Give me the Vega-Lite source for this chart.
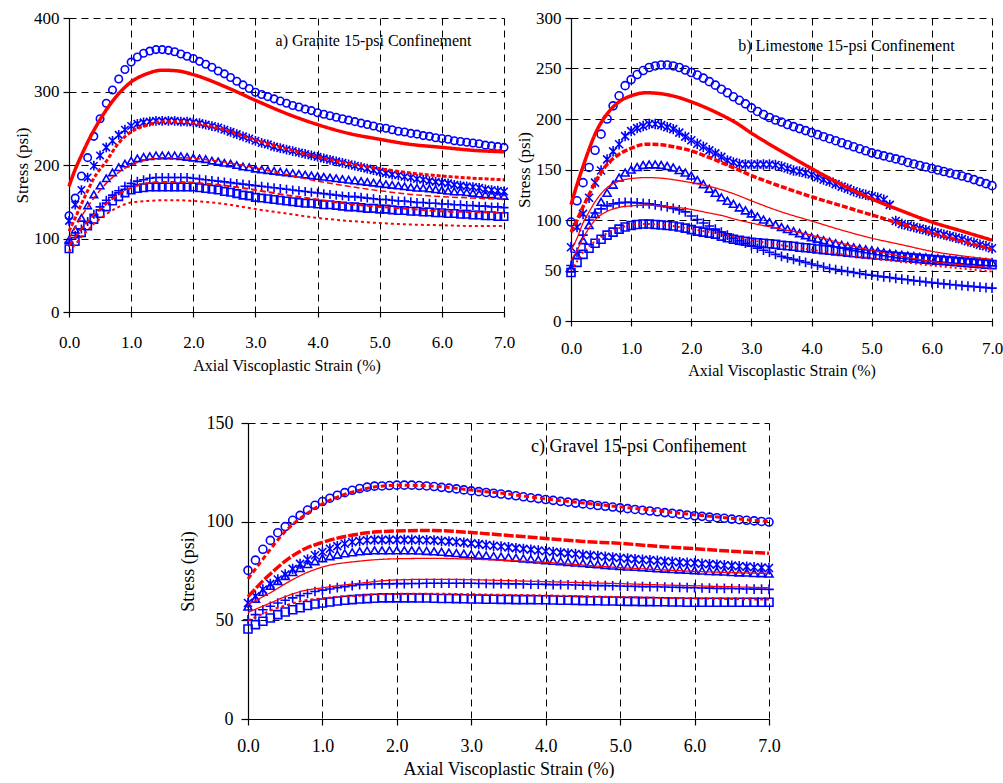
{
"$schema": "https://vega.github.io/schema/vega-lite/v6.json",
"background": "white",
"padding": {"left": 13, "top": 9, "right": 0, "bottom": 0},
"spacing": 36,
"resolve": {"scale": {"shape": "independent", "strokeDash": "independent", "strokeWidth": "independent"}},
"datasets": {
"aPts": [
{"strain":0.0,"circle":131,"star":124,"triangle":98,"plus":95,"square":86},
{"strain":0.1,"circle":155,"star":146,"triangle":112,"plus":104,"square":96},
{"strain":0.2,"circle":185,"star":166,"triangle":128,"plus":113,"square":108},
{"strain":0.3,"circle":210,"star":183,"triangle":145,"plus":123,"square":117},
{"strain":0.4,"circle":239,"star":199,"triangle":160,"plus":133,"square":126},
{"strain":0.5,"circle":263,"star":213,"triangle":172,"plus":143,"square":134},
{"strain":0.6,"circle":284,"star":224,"triangle":182,"plus":152,"square":143},
{"strain":0.7,"circle":302,"star":233,"triangle":190,"plus":159,"square":151},
{"strain":0.8,"circle":317,"star":241,"triangle":197,"plus":165,"square":157},
{"strain":0.9,"circle":330,"star":248,"triangle":202,"plus":171,"square":162},
{"strain":1.0,"circle":340,"star":253,"triangle":206,"plus":175,"square":166},
{"strain":1.1,"circle":347,"star":256,"triangle":209,"plus":178,"square":168},
{"strain":1.2,"circle":352,"star":258,"triangle":211,"plus":180,"square":169},
{"strain":1.3,"circle":355,"star":259,"triangle":212,"plus":182,"square":170},
{"strain":1.4,"circle":357,"star":260,"triangle":213,"plus":183,"square":170},
{"strain":1.5,"circle":357,"star":260,"triangle":213,"plus":183,"square":170},
{"strain":1.6,"circle":356,"star":260,"triangle":213,"plus":183,"square":170},
{"strain":1.7,"circle":354,"star":260,"triangle":213,"plus":183,"square":170},
{"strain":1.8,"circle":351,"star":259,"triangle":212,"plus":183,"square":170},
{"strain":1.9,"circle":348,"star":259,"triangle":211,"plus":183,"square":170},
{"strain":2.0,"circle":345,"star":258,"triangle":210,"plus":182,"square":170},
{"strain":2.1,"circle":341,"star":257,"triangle":209,"plus":181,"square":169},
{"strain":2.2,"circle":337,"star":255,"triangle":208,"plus":180,"square":168},
{"strain":2.3,"circle":333,"star":253,"triangle":206,"plus":179,"square":167},
{"strain":2.4,"circle":328,"star":251,"triangle":205,"plus":178,"square":166},
{"strain":2.5,"circle":324,"star":248,"triangle":203,"plus":177,"square":164},
{"strain":2.6,"circle":319,"star":245,"triangle":202,"plus":176,"square":163},
{"strain":2.7,"circle":314,"star":242,"triangle":200,"plus":175,"square":161},
{"strain":2.8,"circle":309,"star":239,"triangle":198,"plus":174,"square":159},
{"strain":2.9,"circle":304,"star":236,"triangle":197,"plus":173,"square":158},
{"strain":3.0,"circle":299,"star":233,"triangle":195,"plus":172,"square":156},
{"strain":3.1,"circle":296,"star":230,"triangle":194,"plus":171,"square":155},
{"strain":3.2,"circle":293,"star":228,"triangle":193,"plus":170,"square":154},
{"strain":3.3,"circle":290,"star":225,"triangle":192,"plus":169,"square":153},
{"strain":3.4,"circle":287,"star":223,"triangle":191,"plus":168,"square":152},
{"strain":3.5,"circle":284,"star":221,"triangle":190,"plus":167,"square":151},
{"strain":3.6,"circle":281,"star":219,"triangle":189,"plus":166,"square":150},
{"strain":3.7,"circle":279,"star":217,"triangle":188,"plus":165,"square":149},
{"strain":3.8,"circle":276,"star":215,"triangle":187,"plus":164,"square":148},
{"strain":3.9,"circle":274,"star":213,"triangle":186,"plus":163,"square":148},
{"strain":4.0,"circle":271,"star":211,"triangle":185,"plus":162,"square":147},
{"strain":4.1,"circle":269,"star":209,"triangle":184,"plus":161,"square":146},
{"strain":4.2,"circle":267,"star":207,"triangle":183,"plus":160,"square":146},
{"strain":4.3,"circle":265,"star":205,"triangle":182,"plus":159,"square":145},
{"strain":4.4,"circle":263,"star":203,"triangle":181,"plus":158,"square":144},
{"strain":4.5,"circle":261,"star":201,"triangle":180,"plus":157,"square":143},
{"strain":4.6,"circle":259,"star":199,"triangle":179,"plus":157,"square":143},
{"strain":4.7,"circle":257,"star":197,"triangle":178,"plus":156,"square":142},
{"strain":4.8,"circle":255,"star":195,"triangle":177,"plus":155,"square":141},
{"strain":4.9,"circle":253,"star":193,"triangle":176,"plus":154,"square":141},
{"strain":5.0,"circle":251,"star":191,"triangle":175,"plus":153,"square":140},
{"strain":5.1,"circle":250,"star":189,"triangle":174,"plus":153,"square":140},
{"strain":5.2,"circle":248,"star":187,"triangle":173,"plus":152,"square":139},
{"strain":5.3,"circle":246,"star":186,"triangle":172,"plus":151,"square":138},
{"strain":5.4,"circle":245,"star":184,"triangle":171,"plus":151,"square":138},
{"strain":5.5,"circle":243,"star":183,"triangle":170,"plus":150,"square":137},
{"strain":5.6,"circle":242,"star":181,"triangle":169,"plus":149,"square":137},
{"strain":5.7,"circle":240,"star":180,"triangle":169,"plus":149,"square":136},
{"strain":5.8,"circle":239,"star":178,"triangle":168,"plus":148,"square":136},
{"strain":5.9,"circle":237,"star":177,"triangle":167,"plus":148,"square":135},
{"strain":6.0,"circle":236,"star":176,"triangle":166,"plus":147,"square":135},
{"strain":6.1,"circle":235,"star":175,"triangle":165,"plus":147,"square":134},
{"strain":6.2,"circle":233,"star":173,"triangle":164,"plus":146,"square":134},
{"strain":6.3,"circle":232,"star":172,"triangle":164,"plus":146,"square":133},
{"strain":6.4,"circle":231,"star":171,"triangle":163,"plus":145,"square":133},
{"strain":6.5,"circle":230,"star":170,"triangle":162,"plus":145,"square":132},
{"strain":6.6,"circle":229,"star":169,"triangle":161,"plus":144,"square":132},
{"strain":6.7,"circle":227,"star":167,"triangle":160,"plus":144,"square":131},
{"strain":6.8,"circle":226,"star":166,"triangle":160,"plus":143,"square":131},
{"strain":6.9,"circle":225,"star":165,"triangle":159,"plus":143,"square":130},
{"strain":7.0,"circle":224,"star":164,"triangle":158,"plus":142,"square":130}
],
"aLines": [
{"strain":0.0,"m1":171,"m2":110,"m3":100,"m4":90,"m5":82},
{"strain":0.1,"m1":194,"m2":128,"m3":115,"m4":102,"m5":92},
{"strain":0.2,"m1":213,"m2":147,"m3":130,"m4":113,"m5":102},
{"strain":0.3,"m1":231,"m2":165,"m3":143,"m4":123,"m5":111},
{"strain":0.4,"m1":247,"m2":182,"m3":155,"m4":132,"m5":120},
{"strain":0.6,"m1":275,"m2":205,"m3":175,"m4":147,"m5":133},
{"strain":0.8,"m1":297,"m2":230,"m3":190,"m4":160,"m5":143},
{"strain":1.0,"m1":313,"m2":245,"m3":200,"m4":169,"m5":149},
{"strain":1.25,"m1":324,"m2":254,"m3":207,"m4":175,"m5":151},
{"strain":1.5,"m1":329,"m2":259,"m3":210,"m4":177,"m5":152},
{"strain":1.75,"m1":328,"m2":259,"m3":210,"m4":177,"m5":152},
{"strain":2.0,"m1":323,"m2":257,"m3":209,"m4":176,"m5":151},
{"strain":2.5,"m1":307,"m2":248,"m3":204,"m4":172,"m5":147},
{"strain":3.0,"m1":288,"m2":234,"m3":196,"m4":166,"m5":140},
{"strain":3.5,"m1":270,"m2":222,"m3":187,"m4":159,"m5":134},
{"strain":4.0,"m1":255,"m2":211,"m3":178,"m4":153,"m5":128},
{"strain":4.5,"m1":243,"m2":202,"m3":171,"m4":147,"m5":124},
{"strain":5.0,"m1":235,"m2":195,"m3":165,"m4":143,"m5":121},
{"strain":5.5,"m1":228,"m2":189,"m3":160,"m4":140,"m5":119},
{"strain":6.0,"m1":224,"m2":185,"m3":157,"m4":137,"m5":118},
{"strain":6.5,"m1":220,"m2":182,"m3":155,"m4":136,"m5":117},
{"strain":7.0,"m1":218,"m2":180,"m3":153,"m4":135,"m5":117}
],
"bPts": [
{"strain":0.0,"circle":98,"star":73,"triangle":52,"plus":55,"square":48},
{"strain":0.1,"circle":119,"star":93,"triangle":65,"plus":68,"square":58},
{"strain":0.2,"circle":137,"star":106,"triangle":80,"plus":85,"square":66},
{"strain":0.3,"circle":152,"star":122,"triangle":95,"plus":100,"square":72},
{"strain":0.4,"circle":169,"star":137,"triangle":106,"plus":107,"square":77},
{"strain":0.5,"circle":185,"star":149,"triangle":118,"plus":111,"square":81},
{"strain":0.6,"circle":200,"star":160,"triangle":127,"plus":114,"square":85},
{"strain":0.7,"circle":213,"star":168,"triangle":135,"plus":116,"square":88},
{"strain":0.8,"circle":223,"star":175,"triangle":142,"plus":117,"square":91},
{"strain":0.9,"circle":233,"star":183,"triangle":147,"plus":117.5,"square":93},
{"strain":1.0,"circle":239,"star":188,"triangle":150,"plus":117.5,"square":94.5},
{"strain":1.1,"circle":244,"star":191,"triangle":152.5,"plus":117,"square":95.5},
{"strain":1.2,"circle":248,"star":193,"triangle":154.5,"plus":116.5,"square":96},
{"strain":1.3,"circle":251,"star":195,"triangle":155,"plus":116,"square":96},
{"strain":1.4,"circle":252.5,"star":195,"triangle":155,"plus":115,"square":95.5},
{"strain":1.5,"circle":253.5,"star":194,"triangle":154.5,"plus":114,"square":95},
{"strain":1.6,"circle":253.5,"star":192,"triangle":153.5,"plus":113,"square":94.5},
{"strain":1.7,"circle":252.5,"star":190,"triangle":152,"plus":111.5,"square":94},
{"strain":1.8,"circle":251,"star":186.5,"triangle":149.5,"plus":110,"square":93},
{"strain":1.9,"circle":248.5,"star":182.5,"triangle":147,"plus":108,"square":92},
{"strain":2.0,"circle":246,"star":179,"triangle":144,"plus":104,"square":90.5},
{"strain":2.1,"circle":243.5,"star":175.5,"triangle":139.5,"plus":100.5,"square":89},
{"strain":2.2,"circle":240.5,"star":172.5,"triangle":135.5,"plus":97,"square":88},
{"strain":2.3,"circle":237,"star":169,"triangle":131,"plus":94,"square":87},
{"strain":2.4,"circle":233.5,"star":166,"triangle":127,"plus":91,"square":86},
{"strain":2.5,"circle":229.5,"star":162.5,"triangle":122.5,"plus":88,"square":84},
{"strain":2.6,"circle":226,"star":159,"triangle":119,"plus":85,"square":82.5},
{"strain":2.7,"circle":222,"star":157,"triangle":116,"plus":82,"square":81},
{"strain":2.8,"circle":218.5,"star":155.5,"triangle":112.5,"plus":79.5,"square":80},
{"strain":2.9,"circle":215,"star":155,"triangle":109.5,"plus":77,"square":79},
{"strain":3.0,"circle":211,"star":155,"triangle":106.5,"plus":74.5,"square":78},
{"strain":3.1,"circle":207.5,"star":155,"triangle":103.5,"plus":72,"square":77.5},
{"strain":3.2,"circle":204.5,"star":155,"triangle":100.5,"plus":70,"square":77},
{"strain":3.3,"circle":201.5,"star":155,"triangle":98,"plus":68,"square":76.5},
{"strain":3.4,"circle":199,"star":154.5,"triangle":95.5,"plus":66,"square":76},
{"strain":3.5,"circle":197,"star":153,"triangle":93,"plus":64,"square":75},
{"strain":3.6,"circle":194.5,"star":151,"triangle":91,"plus":62.5,"square":74.5},
{"strain":3.7,"circle":192.5,"star":149,"triangle":89,"plus":61,"square":74},
{"strain":3.8,"circle":190.5,"star":148,"triangle":87,"plus":59.5,"square":73},
{"strain":3.9,"circle":188.5,"star":146.5,"triangle":85,"plus":58,"square":72.5},
{"strain":4.0,"circle":186.5,"star":145,"triangle":83,"plus":56.5,"square":72},
{"strain":4.1,"circle":184.5,"star":142.5,"triangle":81.5,"plus":55,"square":71.3},
{"strain":4.2,"circle":182.5,"star":140,"triangle":80,"plus":53.5,"square":70.7},
{"strain":4.3,"circle":180.5,"star":138,"triangle":78.5,"plus":52,"square":70},
{"strain":4.4,"circle":178.5,"star":135.5,"triangle":77,"plus":51,"square":69.4},
{"strain":4.5,"circle":176.5,"star":133,"triangle":75.5,"plus":50,"square":68.8},
{"strain":4.6,"circle":174.5,"star":131,"triangle":74,"plus":49,"square":68.2},
{"strain":4.7,"circle":172.5,"star":128.5,"triangle":73,"plus":48,"square":67.6},
{"strain":4.8,"circle":170.5,"star":126.5,"triangle":72,"plus":47,"square":67},
{"strain":4.9,"circle":168.5,"star":125,"triangle":71,"plus":46,"square":66.4},
{"strain":5.0,"circle":166.5,"star":123.5,"triangle":70,"plus":45.3,"square":65.8},
{"strain":5.1,"circle":165,"star":122,"triangle":69,"plus":44.5,"square":65.3},
{"strain":5.2,"circle":163.5,"star":120,"triangle":68,"plus":43.7,"square":64.8},
{"strain":5.3,"circle":162,"star":115,"triangle":67,"plus":43,"square":64.3},
{"strain":5.4,"circle":160.5,"star":99,"triangle":66.2,"plus":42.2,"square":63.8},
{"strain":5.5,"circle":159,"star":96,"triangle":65.5,"plus":41.5,"square":63.3},
{"strain":5.6,"circle":157,"star":94.5,"triangle":64.8,"plus":40.8,"square":62.8},
{"strain":5.7,"circle":155.5,"star":93,"triangle":64.2,"plus":40,"square":62.3},
{"strain":5.8,"circle":154,"star":91.5,"triangle":63.6,"plus":39.3,"square":61.8},
{"strain":5.9,"circle":152.5,"star":90,"triangle":63,"plus":38.6,"square":61.3},
{"strain":6.0,"circle":151,"star":88.5,"triangle":62.5,"plus":38,"square":60.8},
{"strain":6.1,"circle":149.5,"star":87,"triangle":62,"plus":37.4,"square":60.3},
{"strain":6.2,"circle":148,"star":85.5,"triangle":61.5,"plus":36.8,"square":59.8},
{"strain":6.3,"circle":146.5,"star":84,"triangle":61,"plus":36.2,"square":59.3},
{"strain":6.4,"circle":145,"star":82.5,"triangle":60.5,"plus":35.6,"square":58.8},
{"strain":6.5,"circle":143.5,"star":81,"triangle":60,"plus":35,"square":58.3},
{"strain":6.6,"circle":142,"star":79,"triangle":59.6,"plus":34.5,"square":57.8},
{"strain":6.7,"circle":140,"star":77.5,"triangle":59.2,"plus":34,"square":57.3},
{"strain":6.8,"circle":138,"star":75.5,"triangle":58.8,"plus":33.5,"square":56.8},
{"strain":6.9,"circle":136,"star":74,"triangle":58.4,"plus":33,"square":56.3},
{"strain":7.0,"circle":134,"star":72,"triangle":58,"plus":32.5,"square":55.8}
],
"bLines": [
{"strain":0.0,"m1":115,"m2":88,"m3":70,"m4":60,"m5":50},
{"strain":0.1,"m1":135,"m2":100,"m3":82,"m4":70,"m5":59},
{"strain":0.2,"m1":153,"m2":113,"m3":97,"m4":82,"m5":68},
{"strain":0.3,"m1":170,"m2":125,"m3":108,"m4":92,"m5":74},
{"strain":0.4,"m1":185,"m2":137,"m3":118,"m4":100,"m5":79},
{"strain":0.6,"m1":205,"m2":155,"m3":132,"m4":108.5,"m5":87},
{"strain":0.8,"m1":217,"m2":165,"m3":138.5,"m4":112.5,"m5":92},
{"strain":1.0,"m1":223,"m2":171,"m3":141,"m4":114,"m5":95},
{"strain":1.25,"m1":226,"m2":175,"m3":142,"m4":114.7,"m5":96},
{"strain":1.5,"m1":225,"m2":174.5,"m3":141.4,"m4":114,"m5":95.5},
{"strain":1.75,"m1":222,"m2":172,"m3":139.5,"m4":112.5,"m5":93.5},
{"strain":2.0,"m1":217,"m2":168.5,"m3":137,"m4":110.5,"m5":91},
{"strain":2.25,"m1":211,"m2":163,"m3":134,"m4":107.5,"m5":88.5},
{"strain":2.5,"m1":204,"m2":157,"m3":130,"m4":104.5,"m5":86},
{"strain":2.75,"m1":196,"m2":150.5,"m3":125,"m4":100.5,"m5":83},
{"strain":3.0,"m1":186,"m2":144,"m3":119,"m4":97,"m5":80},
{"strain":3.5,"m1":168,"m2":133,"m3":108,"m4":91,"m5":75},
{"strain":4.0,"m1":151,"m2":123,"m3":99,"m4":85,"m5":70.5},
{"strain":4.5,"m1":135,"m2":114,"m3":90,"m4":77,"m5":66},
{"strain":5.0,"m1":121,"m2":105,"m3":82,"m4":70,"m5":62},
{"strain":5.5,"m1":109,"m2":96,"m3":75.5,"m4":64,"m5":58.5},
{"strain":6.0,"m1":98,"m2":87,"m3":69,"m4":59,"m5":55},
{"strain":6.5,"m1":89,"m2":79,"m3":64.5,"m4":55.5,"m5":52},
{"strain":7.0,"m1":80,"m2":71,"m3":61,"m4":52.5,"m5":49}
],
"cPts": [
{"strain":0.0,"circle":75.3,"star":58.8,"triangle":57,"plus":50.3,"square":45.6},
{"strain":0.1,"circle":80.5,"star":62.2,"triangle":61,"plus":52.9,"square":47.8},
{"strain":0.2,"circle":86,"star":65.6,"triangle":64.5,"plus":55.4,"square":49.5},
{"strain":0.3,"circle":90.5,"star":68.5,"triangle":67.5,"plus":57.1,"square":51.2},
{"strain":0.4,"circle":94.4,"star":70.7,"triangle":70,"plus":58.8,"square":52.9},
{"strain":0.5,"circle":97.5,"star":73.2,"triangle":72.5,"plus":60.2,"square":54.2},
{"strain":0.6,"circle":100.7,"star":76.1,"triangle":74.5,"plus":61.4,"square":55.4},
{"strain":0.7,"circle":103.2,"star":78.6,"triangle":76.5,"plus":62.5,"square":56.4},
{"strain":0.8,"circle":105.9,"star":80.8,"triangle":78.5,"plus":63.6,"square":57.5},
{"strain":0.9,"circle":108.3,"star":83,"triangle":80,"plus":64.6,"square":58.3},
{"strain":1.0,"circle":110.2,"star":84.6,"triangle":81.5,"plus":65.3,"square":58.8},
{"strain":1.1,"circle":111.9,"star":86.3,"triangle":82.5,"plus":65.9,"square":59.3},
{"strain":1.2,"circle":113.4,"star":87.6,"triangle":83.3,"plus":66.6,"square":59.8},
{"strain":1.3,"circle":114.7,"star":88.8,"triangle":84,"plus":67.1,"square":60.2},
{"strain":1.4,"circle":115.9,"star":89.7,"triangle":84.5,"plus":67.6,"square":60.5},
{"strain":1.5,"circle":116.8,"star":90.2,"triangle":85,"plus":68,"square":60.8},
{"strain":1.6,"circle":117.5,"star":90.6,"triangle":85.3,"plus":68.2,"square":61},
{"strain":1.7,"circle":118,"star":90.8,"triangle":85.5,"plus":68.4,"square":61.2},
{"strain":1.8,"circle":118.1,"star":90.8,"triangle":85.5,"plus":68.5,"square":61.4},
{"strain":1.9,"circle":118.3,"star":90.8,"triangle":85.5,"plus":68.5,"square":61.4},
{"strain":2.0,"circle":118.5,"star":90.8,"triangle":85.5,"plus":68.6,"square":61.4},
{"strain":2.1,"circle":118.5,"star":90.8,"triangle":85.5,"plus":68.6,"square":61.4},
{"strain":2.2,"circle":118.5,"star":90.8,"triangle":85.5,"plus":68.7,"square":61.4},
{"strain":2.3,"circle":118.3,"star":90.7,"triangle":85.4,"plus":68.7,"square":61.3},
{"strain":2.4,"circle":118.1,"star":90.6,"triangle":85.2,"plus":68.8,"square":61.3},
{"strain":2.5,"circle":117.8,"star":90.5,"triangle":85,"plus":68.8,"square":61.2},
{"strain":2.6,"circle":117.4,"star":90.2,"triangle":84.7,"plus":68.8,"square":61.1},
{"strain":2.7,"circle":117,"star":90,"triangle":84.4,"plus":68.8,"square":61.1},
{"strain":2.8,"circle":116.6,"star":89.7,"triangle":84.1,"plus":68.8,"square":61},
{"strain":2.9,"circle":116.1,"star":89.4,"triangle":83.8,"plus":68.8,"square":60.9},
{"strain":3.0,"circle":115.6,"star":89,"triangle":83.5,"plus":68.8,"square":60.8},
{"strain":3.1,"circle":115.2,"star":88.6,"triangle":83.2,"plus":68.7,"square":60.8},
{"strain":3.2,"circle":114.8,"star":88.2,"triangle":82.9,"plus":68.7,"square":60.7},
{"strain":3.3,"circle":114.4,"star":87.8,"triangle":82.6,"plus":68.6,"square":60.7},
{"strain":3.4,"circle":114,"star":87.4,"triangle":82.3,"plus":68.6,"square":60.6},
{"strain":3.5,"circle":113.6,"star":87,"triangle":82,"plus":68.5,"square":60.6},
{"strain":3.6,"circle":113.1,"star":86.6,"triangle":81.7,"plus":68.5,"square":60.5},
{"strain":3.7,"circle":112.6,"star":86.2,"triangle":81.4,"plus":68.4,"square":60.5},
{"strain":3.8,"circle":112.1,"star":85.8,"triangle":81.1,"plus":68.3,"square":60.5},
{"strain":3.9,"circle":111.7,"star":85.4,"triangle":80.8,"plus":68.3,"square":60.4},
{"strain":4.0,"circle":111.2,"star":85,"triangle":80.5,"plus":68.2,"square":60.4},
{"strain":4.1,"circle":110.8,"star":84.6,"triangle":80.2,"plus":68.1,"square":60.3},
{"strain":4.2,"circle":110.3,"star":84.3,"triangle":79.9,"plus":68.1,"square":60.2},
{"strain":4.3,"circle":109.9,"star":83.9,"triangle":79.6,"plus":68,"square":60.2},
{"strain":4.4,"circle":109.4,"star":83.6,"triangle":79.3,"plus":67.9,"square":60.1},
{"strain":4.5,"circle":109,"star":83.2,"triangle":79,"plus":67.8,"square":60},
{"strain":4.6,"circle":108.6,"star":82.9,"triangle":78.7,"plus":67.7,"square":59.9},
{"strain":4.7,"circle":108.2,"star":82.6,"triangle":78.4,"plus":67.6,"square":59.9},
{"strain":4.8,"circle":107.8,"star":82.2,"triangle":78.1,"plus":67.6,"square":59.8},
{"strain":4.9,"circle":107.4,"star":81.9,"triangle":77.8,"plus":67.5,"square":59.8},
{"strain":5.0,"circle":107,"star":81.6,"triangle":77.5,"plus":67.4,"square":59.7},
{"strain":5.1,"circle":106.6,"star":81.3,"triangle":77.3,"plus":67.3,"square":59.6},
{"strain":5.2,"circle":106.2,"star":81,"triangle":77.1,"plus":67.2,"square":59.6},
{"strain":5.3,"circle":105.8,"star":80.7,"triangle":76.9,"plus":67.1,"square":59.5},
{"strain":5.4,"circle":105.4,"star":80.5,"triangle":76.6,"plus":67.1,"square":59.5},
{"strain":5.5,"circle":105,"star":80.2,"triangle":76.4,"plus":67,"square":59.4},
{"strain":5.6,"circle":104.6,"star":79.9,"triangle":76.2,"plus":66.9,"square":59.4},
{"strain":5.7,"circle":104.2,"star":79.7,"triangle":76,"plus":66.8,"square":59.3},
{"strain":5.8,"circle":103.8,"star":79.4,"triangle":75.8,"plus":66.7,"square":59.3},
{"strain":5.9,"circle":103.4,"star":79.2,"triangle":75.6,"plus":66.6,"square":59.2},
{"strain":6.0,"circle":103,"star":79,"triangle":75.4,"plus":66.5,"square":59.2},
{"strain":6.1,"circle":102.7,"star":78.7,"triangle":75.2,"plus":66.4,"square":59.2},
{"strain":6.2,"circle":102.3,"star":78.5,"triangle":75,"plus":66.3,"square":59.2},
{"strain":6.3,"circle":102,"star":78.2,"triangle":74.9,"plus":66.2,"square":59.2},
{"strain":6.4,"circle":101.7,"star":77.9,"triangle":74.7,"plus":66.2,"square":59.2},
{"strain":6.5,"circle":101.3,"star":77.7,"triangle":74.5,"plus":66.1,"square":59.2},
{"strain":6.6,"circle":101,"star":77.4,"triangle":74.3,"plus":66,"square":59.2},
{"strain":6.7,"circle":100.7,"star":77.2,"triangle":74.2,"plus":65.9,"square":59.2},
{"strain":6.8,"circle":100.4,"star":76.9,"triangle":74,"plus":65.8,"square":59.2},
{"strain":6.9,"circle":100.1,"star":76.7,"triangle":73.9,"plus":65.8,"square":59.2},
{"strain":7.0,"circle":99.8,"star":76.5,"triangle":73.7,"plus":65.7,"square":59.2}
],
"cLines": [
{"strain":0.0,"m1":71,"m2":62,"m3":58,"m4":54,"m5":50},
{"strain":0.1,"m1":76,"m2":66,"m3":60,"m4":55.6,"m5":51.7},
{"strain":0.2,"m1":81,"m2":70,"m3":62,"m4":57.2,"m5":53.3},
{"strain":0.3,"m1":86,"m2":73.5,"m3":64,"m4":58.8,"m5":55},
{"strain":0.5,"m1":95,"m2":80,"m3":68.5,"m4":62,"m5":57.5},
{"strain":0.75,"m1":103,"m2":86,"m3":73.5,"m4":65,"m5":60},
{"strain":1.0,"m1":109,"m2":89.5,"m3":77,"m4":66.5,"m5":61.2},
{"strain":1.5,"m1":116,"m2":93.8,"m3":80,"m4":68.8,"m5":62.5},
{"strain":2.0,"m1":118.5,"m2":95.3,"m3":81.2,"m4":70.5,"m5":63.4},
{"strain":2.5,"m1":118,"m2":95.5,"m3":81.4,"m4":70.8,"m5":63.5},
{"strain":3.0,"m1":116,"m2":94.5,"m3":81,"m4":70.6,"m5":63.2},
{"strain":3.5,"m1":114,"m2":93,"m3":80.3,"m4":70.1,"m5":62.9},
{"strain":4.0,"m1":111.5,"m2":91.5,"m3":79.4,"m4":69.6,"m5":62.6},
{"strain":4.5,"m1":109.5,"m2":90,"m3":78,"m4":69.1,"m5":62.2},
{"strain":5.0,"m1":107.5,"m2":89,"m3":76.7,"m4":68.6,"m5":61.8},
{"strain":5.5,"m1":105.5,"m2":87.5,"m3":75.7,"m4":68,"m5":61.4},
{"strain":6.0,"m1":103.5,"m2":86.3,"m3":74.8,"m4":67.5,"m5":61.1},
{"strain":6.5,"m1":101.7,"m2":85,"m3":74.2,"m4":67,"m5":60.8},
{"strain":7.0,"m1":100,"m2":84,"m3":73.7,"m4":66.5,"m5":60.5}
]
},
"vconcat": [
{
"bounds": "flush",
"spacing": 67,
"resolve": {"scale": {"shape": "independent", "strokeDash": "independent", "strokeWidth": "independent"}},
"hconcat": [
{
"width": 435, "height": 294,
"layer": [
{
"data": {"name": "aPts"},
"transform": [{"fold": ["circle","star","triangle","plus","square"], "as": ["series","stress"]}],
"mark": {"type": "point", "filled": false, "color": "#0000ff", "strokeWidth": 1.6, "size": 56, "opacity": 1},
"encoding": {
"x": {"field": "strain", "type": "quantitative", "scale": {"domain": [0,7], "nice": false, "zero": false},
"axis": {"values": [0,1,2,3,4,5,6,7], "format": ".1f", "title": "Axial Viscoplastic Strain (%)", "labelFontSize": 17, "titleFontSize": 16, "tickSize": 5, "labelPadding": 17, "titlePadding": 7}},
"y": {"field": "stress", "type": "quantitative", "scale": {"domain": [0,400], "nice": false},
"axis": {"values": [0,50,100,150,200,250,300,350,400], "title": "Stress (psi)", "labelFontSize": 17, "titleFontSize": 17, "tickSize": 6, "labelPadding": 4, "titlePadding": 2}},
"shape": {"field": "series", "type": "nominal", "scale": {"domain": ["circle","star","triangle","plus","square"], "range": ["circle", "M-1,-1L1,1M-1,1L1,-1M0,-1.3L0,1.3", "triangle-up", "M-1.2,0L1.2,0M0,-1.2L0,1.2", "square"]}, "legend": null}
}
},
{
"data": {"name": "aLines"},
"transform": [{"fold": ["m1","m2","m3","m4","m5"], "as": ["model","stress"]}],
"mark": {"type": "line", "color": "#ff0000", "interpolate": "monotone"},
"encoding": {
"x": {"field": "strain", "type": "quantitative"},
"y": {"field": "stress", "type": "quantitative"},
"strokeDash": {"field": "model", "type": "nominal", "scale": {"type": "ordinal", "domain": ["m1","m2","m3","m4","m5"], "range": [[1,0],[4,2],[6,3],[6,3],[3,3]]}, "legend": null},
"strokeWidth": {"field": "model", "type": "nominal", "scale": {"type": "ordinal", "domain": ["m1","m2","m3","m4","m5"], "range": [3.5,3,1.5,2,2]}, "legend": null}
}
},
{
"data": {"values": [{"label": "a) Granite 15-psi Confinement"}]},
"mark": {"type": "text", "fontSize": 16, "font": "Liberation Serif", "color": "#000"},
"encoding": {"x": {"datum": 4.9}, "y": {"datum": 369}, "text": {"field": "label"}}
}
]
},
{
"width": 421, "height": 303,
"layer": [
{
"data": {"name": "bPts"},
"transform": [{"fold": ["circle","star","triangle","plus","square"], "as": ["series","stress"]}],
"mark": {"type": "point", "filled": false, "color": "#0000ff", "strokeWidth": 1.6, "size": 64, "opacity": 1},
"encoding": {
"x": {"field": "strain", "type": "quantitative", "scale": {"domain": [0,7], "nice": false, "zero": false},
"axis": {"values": [0,1,2,3,4,5,6,7], "format": ".1f", "title": "Axial Viscoplastic Strain (%)", "labelFontSize": 17, "titleFontSize": 16, "tickSize": 5, "labelPadding": 14, "titlePadding": 6}},
"y": {"field": "stress", "type": "quantitative", "scale": {"domain": [0,300], "nice": false},
"axis": {"values": [0,50,100,150,200,250,300], "title": "Stress (psi)", "labelFontSize": 17, "titleFontSize": 17, "tickSize": 6, "labelPadding": 4, "titlePadding": 2}},
"shape": {"field": "series", "type": "nominal", "scale": {"domain": ["circle","star","triangle","plus","square"], "range": ["circle", "M-1,-1L1,1M-1,1L1,-1M0,-1.3L0,1.3", "triangle-up", "M-1.2,0L1.2,0M0,-1.2L0,1.2", "square"]}, "legend": null}
}
},
{
"data": {"name": "bLines"},
"transform": [{"fold": ["m1","m2","m3","m4","m5"], "as": ["model","stress"]}],
"mark": {"type": "line", "color": "#ff0000", "interpolate": "monotone"},
"encoding": {
"x": {"field": "strain", "type": "quantitative"},
"y": {"field": "stress", "type": "quantitative"},
"strokeDash": {"field": "model", "type": "nominal", "scale": {"type": "ordinal", "domain": ["m1","m2","m3","m4","m5"], "range": [[1,0],[6,2],[1,0],[1,0],[2,3]]}, "legend": null},
"strokeWidth": {"field": "model", "type": "nominal", "scale": {"type": "ordinal", "domain": ["m1","m2","m3","m4","m5"], "range": [3.5,3.5,1.3,1.3,2]}, "legend": null}
}
},
{
"data": {"values": [{"label": "b) Limestone 15-psi Confinement"}]},
"mark": {"type": "text", "fontSize": 16, "font": "Liberation Serif", "color": "#000"},
"encoding": {"x": {"datum": 4.58}, "y": {"datum": 272.6}, "text": {"field": "label"}}
}
]
}
]
},
{
"bounds": "flush",
"spacing": 174,
"resolve": {"scale": {"shape": "independent", "strokeDash": "independent", "strokeWidth": "independent"}},
"hconcat": [
{
"width": 5, "height": 10,
"data": {"values": []},
"mark": {"type": "point", "opacity": 0}
},
{
"width": 521, "height": 296,
"layer": [
{
"data": {"name": "cPts"},
"transform": [{"fold": ["circle","star","triangle","plus","square"], "as": ["series","stress"]}],
"mark": {"type": "point", "filled": false, "color": "#0000ff", "strokeWidth": 1.6, "size": 64, "opacity": 1},
"encoding": {
"x": {"field": "strain", "type": "quantitative", "scale": {"domain": [0,7], "nice": false, "zero": false},
"axis": {"values": [0,1,2,3,4,5,6,7], "format": ".1f", "title": "Axial Viscoplastic Strain (%)", "labelFontSize": 18, "titleFontSize": 18, "tickSize": 6, "labelPadding": 12, "titlePadding": 5}},
"y": {"field": "stress", "type": "quantitative", "scale": {"domain": [0,150], "nice": false},
"axis": {"values": [0,50,100,150], "title": "Stress (psi)", "labelFontSize": 18, "titleFontSize": 18, "tickSize": 7, "labelPadding": 8, "titlePadding": 9}},
"shape": {"field": "series", "type": "nominal", "scale": {"domain": ["circle","star","triangle","plus","square"], "range": ["circle", "M-1,-1L1,1M-1,1L1,-1M0,-1.3L0,1.3", "triangle-up", "M-1.2,0L1.2,0M0,-1.2L0,1.2", "square"]}, "legend": null}
}
},
{
"data": {"name": "cLines"},
"transform": [{"fold": ["m1","m2","m3","m4","m5"], "as": ["model","stress"]}],
"mark": {"type": "line", "color": "#ff0000", "interpolate": "monotone"},
"encoding": {
"x": {"field": "strain", "type": "quantitative"},
"y": {"field": "stress", "type": "quantitative"},
"strokeDash": {"field": "model", "type": "nominal", "scale": {"type": "ordinal", "domain": ["m1","m2","m3","m4","m5"], "range": [[5,3],[10,2],[1,0],[1,0],[3,3]]}, "legend": null},
"strokeWidth": {"field": "model", "type": "nominal", "scale": {"type": "ordinal", "domain": ["m1","m2","m3","m4","m5"], "range": [3,3.5,1.3,1.3,2]}, "legend": null}
}
},
{
"data": {"values": [{"label": "c) Gravel 15-psi Confinement"}]},
"mark": {"type": "text", "fontSize": 18, "font": "Liberation Serif", "color": "#000"},
"encoding": {"x": {"datum": 5.25}, "y": {"datum": 138}, "text": {"field": "label"}}
}
]
}
]
}
],
"config": {
"font": "Liberation Serif",
"view": {"stroke": null},
"axis": {
"labelFont": "Liberation Serif", "titleFont": "Liberation Serif",
"labelColor": "#000", "titleColor": "#000", "titleFontWeight": "normal",
"grid": true, "gridColor": "#000", "gridDash": [7,5], "gridWidth": 1, "gridOpacity": 1,
"domainColor": "#000", "domainWidth": 1.2, "tickColor": "#000", "tickWidth": 1.2,
"labelFlush": false, "labelOverlap": false, "labelBound": false
}
}
}
